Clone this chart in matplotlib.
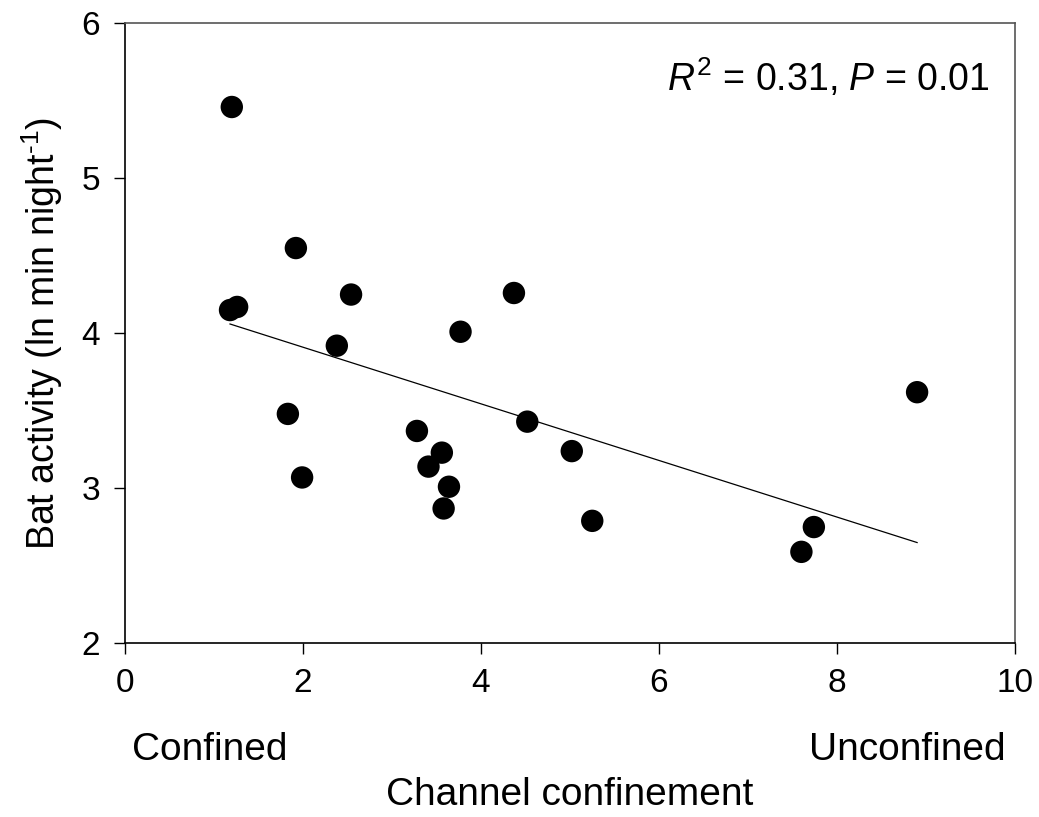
import matplotlib
matplotlib.use("Agg")
import matplotlib.pyplot as plt

plt.rcParams['font.family'] = ['Liberation Sans', 'DejaVu Sans']
plt.rcParams['mathtext.fontset'] = 'custom'
plt.rcParams['mathtext.rm'] = 'Liberation Sans'
plt.rcParams['mathtext.it'] = 'Liberation Sans:italic'

confinement = [1.20, 1.92, 2.54, 1.18, 1.26, 4.37, 3.77, 2.38, 1.83, 1.99, 3.28,
               3.56, 3.41, 3.64, 3.58, 4.52, 5.02, 5.25, 7.74, 7.60, 8.90]
activity = [5.46, 4.55, 4.25, 4.15, 4.17, 4.26, 4.01, 3.92, 3.48, 3.07, 3.37,
            3.23, 3.14, 3.01, 2.87, 3.43, 3.24, 2.79, 2.75, 2.59, 3.62]
fit_x = [1.18, 8.90]
fit_y = [4.06, 2.65]
xticks = [0, 2, 4, 6, 8, 10]
yticks = [2, 3, 4, 5, 6]

fig = plt.figure(figsize=(10.39, 8.17), dpi=100)
ax = fig.add_axes([125 / 1039, 1 - 643.3 / 817, 890 / 1039, 620 / 817])

ax.plot(fit_x, fit_y, color='black', linewidth=0.9, zorder=2)
ax.scatter(confinement, activity, s=260, color='black', edgecolors='none', zorder=3)

ax.set_xlim(0, 10)
ax.set_ylim(2, 6)
ax.set_xticks(xticks)
ax.set_yticks(yticks)
ax.set_xticklabels([str(v) for v in xticks])
ax.set_yticklabels([str(v) for v in yticks])
ax.tick_params(direction='out', length=8, width=1, labelsize=24, pad=10)

for side in ['left', 'bottom']:
    ax.spines[side].set_linewidth(1.2)
    ax.spines[side].set_color('black')
for side in ['top', 'right']:
    ax.spines[side].set_linewidth(1.2)
    ax.spines[side].set_color('#555555')

ax.set_ylabel(r'Bat activity (ln min night$^{\text{-1}}$)', fontsize=27, labelpad=12)

ax.text(0.972, 0.913, r'$R^2$ = 0.31, $P$ = 0.01', transform=ax.transAxes,
        ha='right', va='center', fontsize=27)

fig.text(210 / 1039, 1 - 750 / 817, 'Confined', ha='center', va='center', fontsize=28)
fig.text(907 / 1039, 1 - 750 / 817, 'Unconfined', ha='center', va='center', fontsize=28)
fig.text(570 / 1039, 1 - 795 / 817, 'Channel confinement', ha='center', va='center', fontsize=28)

fig.savefig('out.png', dpi=100)
